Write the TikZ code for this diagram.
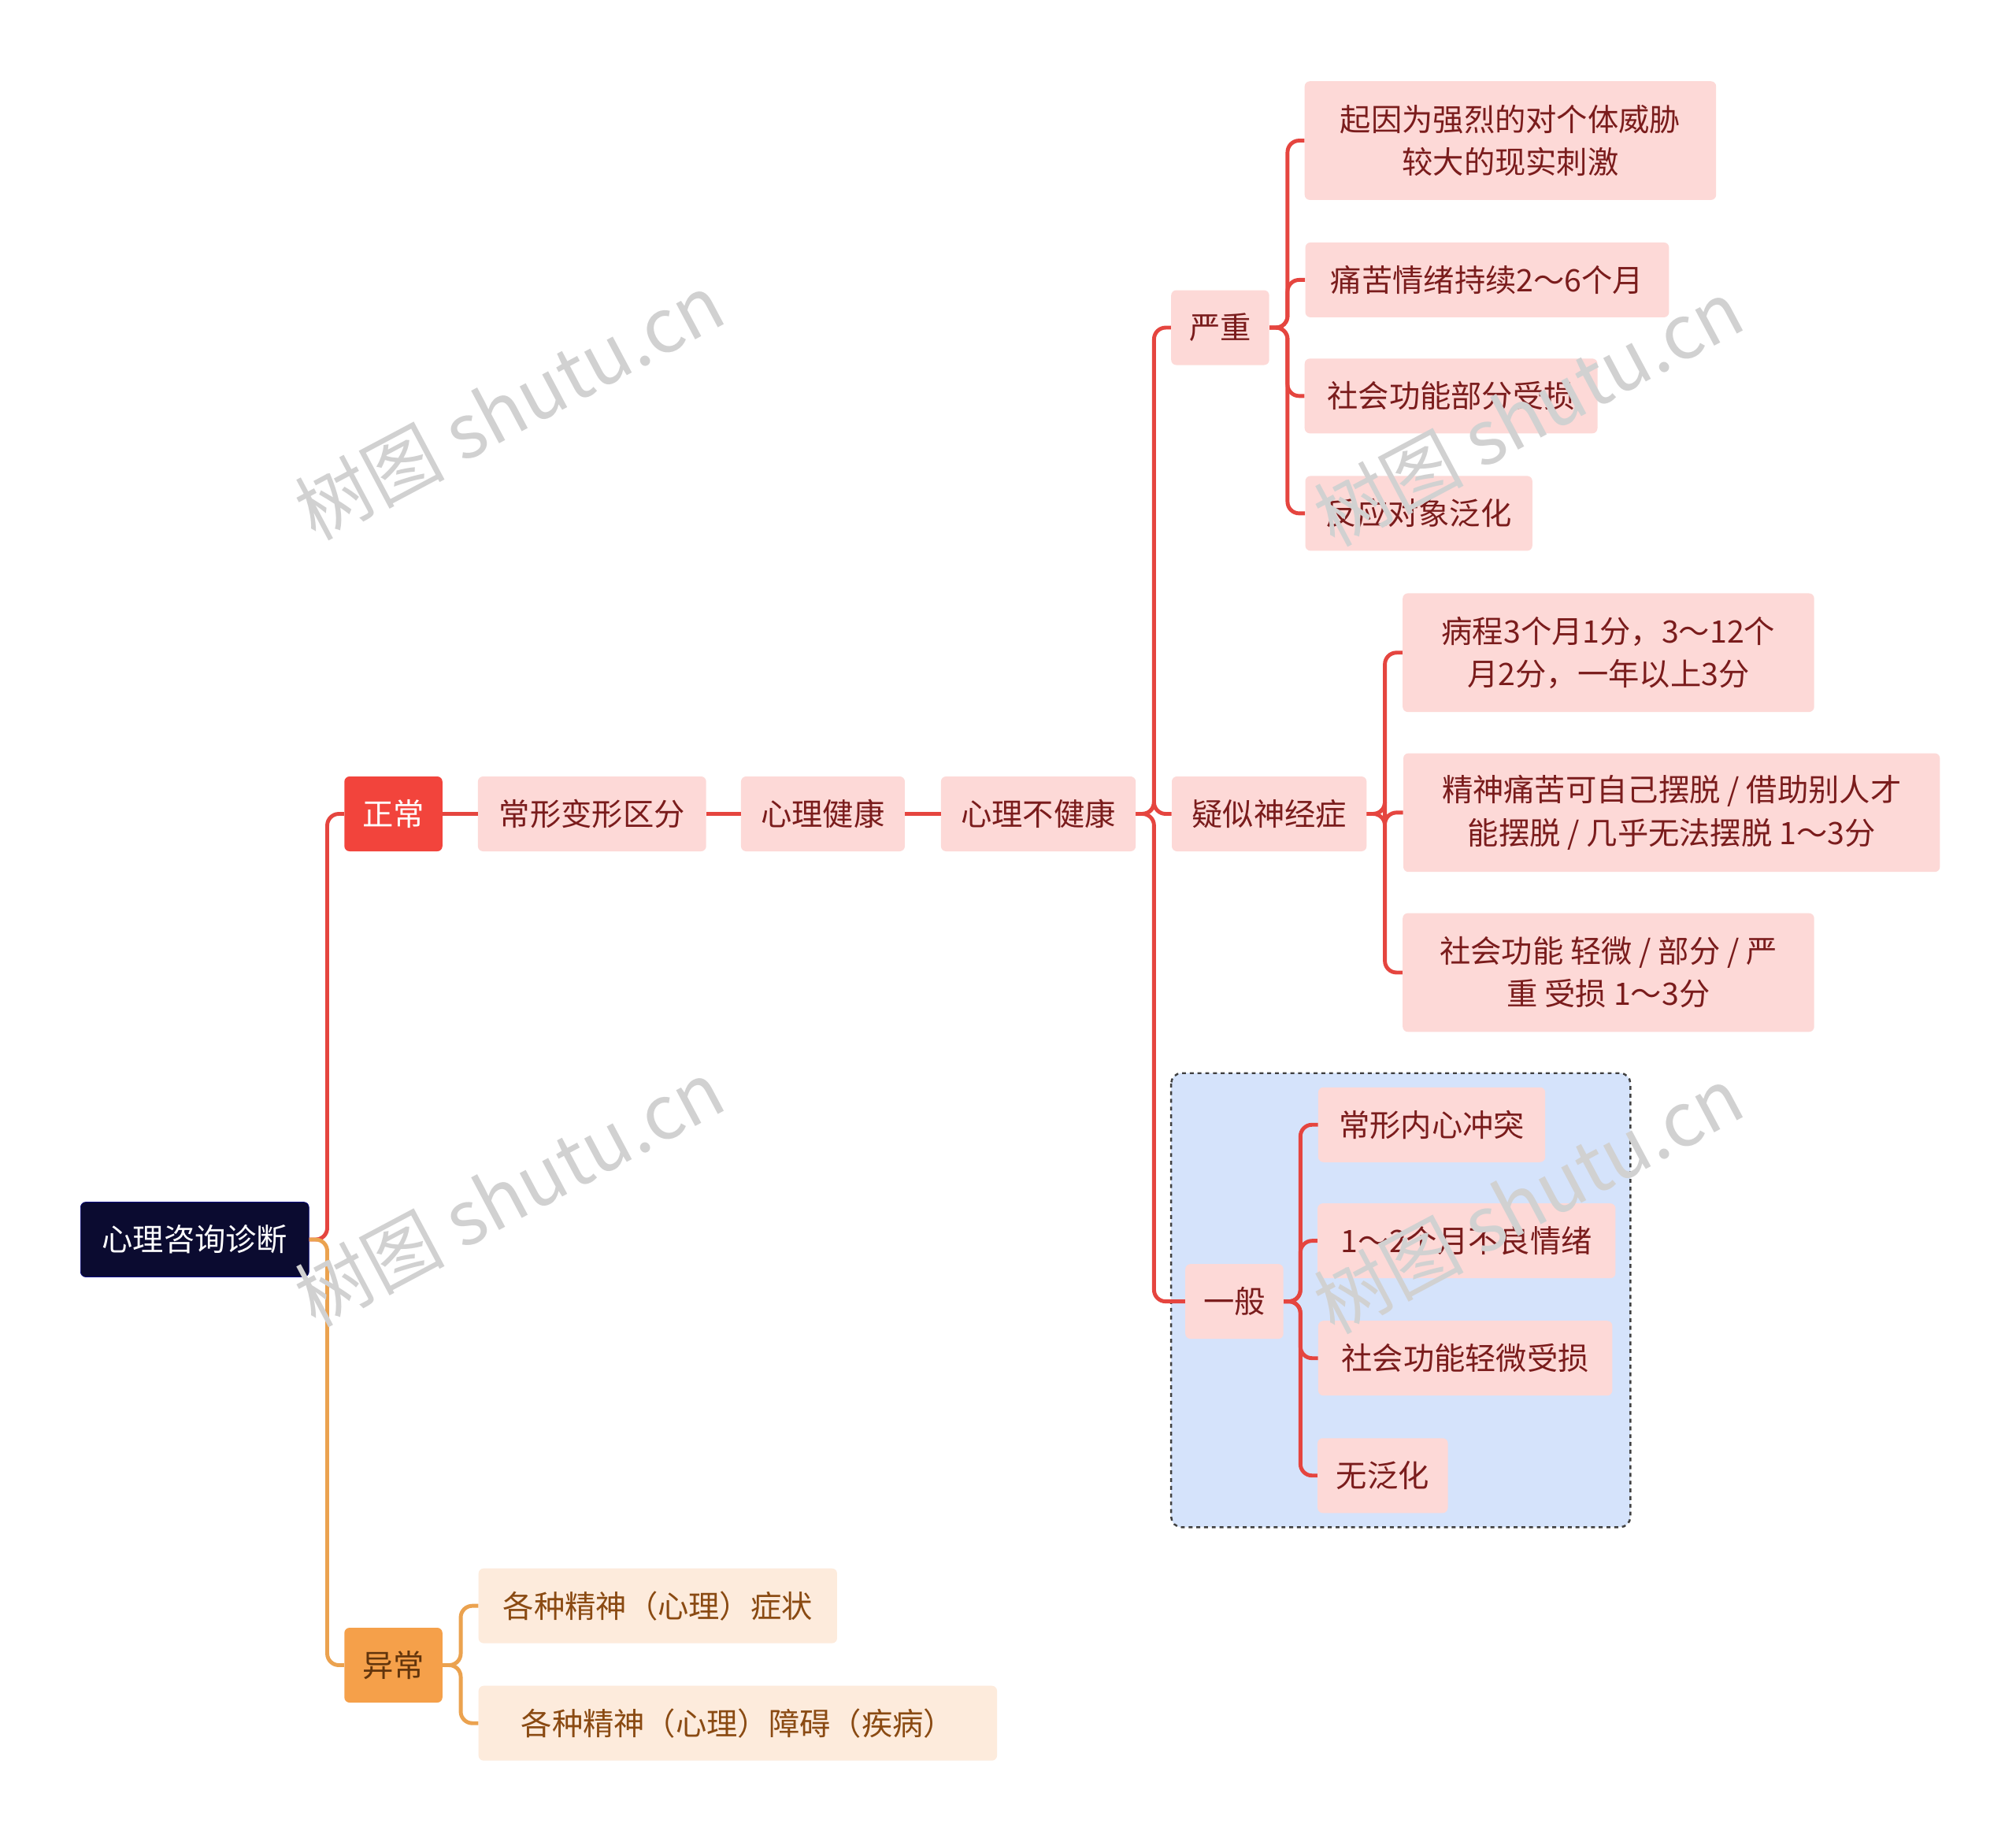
\documentclass[tikz,border=0pt]{standalone}
\usepackage{fontspec}
\setmainfont{Noto Sans CJK SC}
\newfontfamily\wmfont{Noto Sans CJK SC}
\definecolor{navy}{HTML}{0B0B30}
\definecolor{redn}{HTML}{F2443C}
\definecolor{orn}{HTML}{F5A04A}
\definecolor{pinkf}{HTML}{FDD9D7}
\definecolor{pinkt}{HTML}{7A1C1C}
\definecolor{peachf}{HTML}{FDEBDC}
\definecolor{peacht}{HTML}{8A4A12}
\definecolor{redl}{HTML}{E5453F}
\definecolor{orl}{HTML}{EBA24F}
\definecolor{bluef}{HTML}{D5E3FB}
\begin{document}
\begin{tikzpicture}[x=1pt,y=-1pt,
  box/.style={rounded corners=4pt,minimum height=58pt,inner sep=0pt,align=center,font=\fontsize{24}{33}\selectfont},
  pk/.style={box,fill=pinkf,text=pinkt},
  pc/.style={box,fill=peachf,text=peacht},
  rl/.style={draw=redl,line width=3pt,rounded corners=9pt},
  ol/.style={draw=orl,line width=3pt,rounded corners=9pt},
  wm/.style={text=black!18,font=\wmfont\fontsize{58}{60}\selectfont,rotate=28}]
\useasboundingbox (0,0) rectangle (1563,1425);
\fill[white] (0,0) rectangle (1563,1425);
\draw[dashed,line width=1.5pt,draw=black!75,fill=bluef,rounded corners=8pt] (908,832) rectangle (1264,1184);

\node[box,fill=navy,text=white,draw=blue!40!navy,minimum width=177pt] (root) at (151,961) {心理咨询诊断};
\node[box,fill=redn,text=white,minimum width=76pt] (zc) at (305,631) {正常};
\node[box,fill=orn,text=peacht!70!black,minimum width=76pt] (yc) at (305,1291) {异常};
\node[pk,minimum width=177pt] (cx) at (459,631) {常形变形区分};
\node[pk,minimum width=127pt] (xj) at (638,631) {心理健康};
\node[pk,minimum width=151pt] (xb) at (805,631) {心理不健康};
\node[pk,minimum width=76pt] (yz) at (946,254) {严重};
\node[pk,minimum width=151pt] (ys) at (984,631) {疑似神经症};
\node[pk,minimum width=76pt] (yb) at (957,1009) {一般};
\node[pk,minimum width=319pt,minimum height=92pt] (a1) at (1171,109) {起因为强烈的对个体威胁\\较大的现实刺激};
\node[pk,minimum width=282pt] (a2) at (1153,217) {痛苦情绪持续2～6个月};
\node[pk,minimum width=227pt] (a3) at (1125,307) {社会功能部分受损};
\node[pk,minimum width=176pt] (a4) at (1100,398) {反应对象泛化};
\node[pk,minimum width=319pt,minimum height=92pt] (b1) at (1247,506) {病程3个月1分，3～12个\\月2分，一年以上3分};
\node[pk,minimum width=416pt,minimum height=92pt] (b2) at (1296,630) {精神痛苦可自己摆脱 / 借助别人才\\能摆脱 / 几乎无法摆脱 1～3分};
\node[pk,minimum width=319pt,minimum height=92pt] (b3) at (1247,754) {社会功能 轻微 / 部分 / 严\\重 受损 1～3分};
\node[pk,minimum width=176pt] (c1) at (1110,872) {常形内心冲突};
\node[pk,minimum width=231pt] (c2) at (1137,962) {1～2个月不良情绪};
\node[pk,minimum width=228pt] (c3) at (1136,1053) {社会功能轻微受损};
\node[pk,minimum width=101pt] (c4) at (1072,1144) {无泛化};
\node[pc,minimum width=278pt] (d1) at (510,1245) {各种精神（心理）症状};
\node[pc,minimum width=402pt] (d2) at (572,1336) {各种精神（心理）障碍（疾病）};

\draw[rl] (root.east) -- ++(14,0) |- (zc.west);
\draw[ol] (root.east) -- ++(14,0) |- (yc.west);
\draw[rl] (zc) -- (cx);
\draw[rl] (cx) -- (xj);
\draw[rl] (xj) -- (xb);
\foreach \c in {yz,ys,yb} \draw[rl] (xb.east) -- ++(14,0) |- (\c.west);
\foreach \c in {a1,a2,a3,a4} \draw[rl] (yz.east) -- ++(14,0) |- (\c.west);
\foreach \c in {b1,b2,b3} \draw[rl] (ys.east) -- ++(14,0) |- (\c.west);
\foreach \c in {c1,c2,c3,c4} \draw[rl] (yb.east) -- ++(13,0) |- (\c.west);
\foreach \c in {d1,d2} \draw[ol] (yc.east) -- ++(14,0) |- (\c.west);

\node[wm] (w1) at (395,315) {树图 shutu.cn};
\node[wm] (w2) at (395,925) {树图 shutu.cn};
\node[wm] (w3) at (1185,320) {树图 shutu.cn};
\node[wm] (w4) at (1185,930) {树图 shutu.cn};
\end{tikzpicture}
\end{document}
